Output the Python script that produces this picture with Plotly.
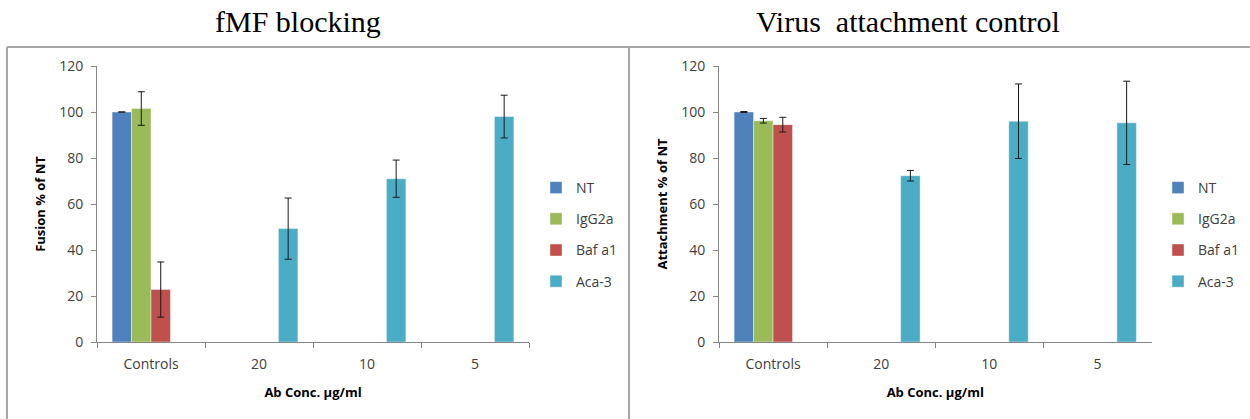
import plotly.graph_objects as go

W, H = 1250, 419

categories = ["Controls", "20", "10", "5"]
series_names = ["NT", "IgG2a", "Baf a1", "Aca-3"]
colors = ["#4F81BD", "#9BBB59", "#C0504D", "#4BACC6"]

# fMF blocking (Fusion % of NT)
fusion_nt = [100, None, None, None]
fusion_nt_err = [0, None, None, None]
fusion_igg = [101.5, None, None, None]
fusion_igg_err = [7.3, None, None, None]
fusion_baf = [22.8, None, None, None]
fusion_baf_err = [12.0, None, None, None]
fusion_aca = [None, 49.3, 71.0, 98.0]
fusion_aca_err = [None, 13.3, 8.1, 9.3]

# Virus attachment control (Attachment % of NT)
attach_nt = [100, None, None, None]
attach_nt_err = [0.2, None, None, None]
attach_igg = [96.2, None, None, None]
attach_igg_err = [1.0, None, None, None]
attach_baf = [94.5, None, None, None]
attach_baf_err = [3.2, None, None, None]
attach_aca = [None, 72.3, 96.0, 95.3]
attach_aca_err = [None, 2.3, 16.2, 18.1]

y_ticks = [0, 20, 40, 60, 80, 100, 120]

panels = [
    ("x", "y", "legend", [fusion_nt, fusion_igg, fusion_baf, fusion_aca],
     [fusion_nt_err, fusion_igg_err, fusion_baf_err, fusion_aca_err]),
    ("x2", "y2", "legend2", [attach_nt, attach_igg, attach_baf, attach_aca],
     [attach_nt_err, attach_igg_err, attach_baf_err, attach_aca_err]),
]

fig = go.Figure()
for xa, ya, lg, vals, errs in panels:
    for i, name in enumerate(series_names):
        fig.add_trace(go.Bar(
            x=categories, y=vals[i], name=name, xaxis=xa, yaxis=ya,
            legend=lg, legendgroup=lg + name,
            marker=dict(color=colors[i], line=dict(width=0.8, color="rgba(255,255,255,0.5)")),
            error_y=dict(type="data", array=errs[i], visible=True,
                         color="#1a1a1a", thickness=1, width=3.5),
        ))

font_main = "'Open Sans', sans-serif"
tick_font = dict(family=font_main, size=14, color="#404040")
title_font = dict(family=font_main, size=13, color="#000000")

def px_x(p):
    return p / W

def px_y(p):
    return (H - p) / H

y_dom = [px_y(342), px_y(66)]

common_x = dict(type="category", showgrid=False, showline=True, linecolor="#868686",
                linewidth=1, ticks="outside", ticklen=5, tickcolor="#868686",
                tickson="boundaries", tickfont=tick_font, zeroline=False,
                ticklabelstandoff=9,
                title=dict(text="<b>Ab Conc. µg/ml</b>", font=title_font, standoff=16))
common_y = dict(range=[0, 120], tickvals=y_ticks, showgrid=False, showline=True,
                linecolor="#868686", linewidth=1, ticks="outside", ticklen=5,
                tickcolor="#868686", tickfont=tick_font, zeroline=False, domain=y_dom,
                ticklabelstandoff=5)

legend_common = dict(font=dict(family=font_main, size=14, color="#404040"),
                     traceorder="grouped", tracegroupgap=10, itemwidth=30,
                     bgcolor="rgba(0,0,0,0)", yanchor="top", xanchor="left",
                     itemclick=False)

fig.update_layout(
    width=W, height=H, margin=dict(l=0, r=0, t=0, b=0, autoexpand=False),
    paper_bgcolor="white", plot_bgcolor="white",
    barmode="group", bargap=0.28, bargroupgap=0,
    showlegend=True,
    xaxis=dict(domain=[px_x(97), px_x(529)], anchor="y", **common_x),
    yaxis=dict(anchor="x",
               title=dict(text="<b>Fusion % of NT</b>", font=title_font, standoff=10),
               **common_y),
    xaxis2=dict(domain=[px_x(719), px_x(1151.5)], anchor="y2", **common_x),
    yaxis2=dict(anchor="x2",
                title=dict(text="<b>Attachment % of NT</b>", font=title_font, standoff=10),
                **common_y),
    legend=dict(x=px_x(536), y=px_y(172), **legend_common),
    legend2=dict(x=px_x(1158), y=px_y(172), **legend_common),
    annotations=[
        dict(text="fMF blocking", x=px_x(298), y=px_y(22), xref="paper", yref="paper",
             showarrow=False, xanchor="center", yanchor="middle",
             font=dict(family="'Liberation Serif', 'Times New Roman', serif", size=30, color="#000")),
        dict(text="Virus  attachment control", x=px_x(908), y=px_y(22), xref="paper", yref="paper",
             showarrow=False, xanchor="center", yanchor="middle",
             font=dict(family="'Liberation Serif', 'Times New Roman', serif", size=30, color="#000")),
    ],
    shapes=[
        dict(type="line", xref="paper", yref="paper", x0=px_x(7), x1=px_x(7),
             y0=px_y(47), y1=-0.05, line=dict(color="#A6A6A6", width=2)),
        dict(type="line", xref="paper", yref="paper", x0=px_x(629), x1=px_x(629),
             y0=px_y(47), y1=-0.05, line=dict(color="#A6A6A6", width=2)),
        dict(type="line", xref="paper", yref="paper", x0=px_x(7), x1=1.01,
             y0=px_y(47), y1=px_y(47), line=dict(color="#A6A6A6", width=2)),
    ],
)

fig.write_html("out.html", config={"displayModeBar": False},
               post_script="document.body.style.margin='0';document.body.style.overflow='hidden';")
